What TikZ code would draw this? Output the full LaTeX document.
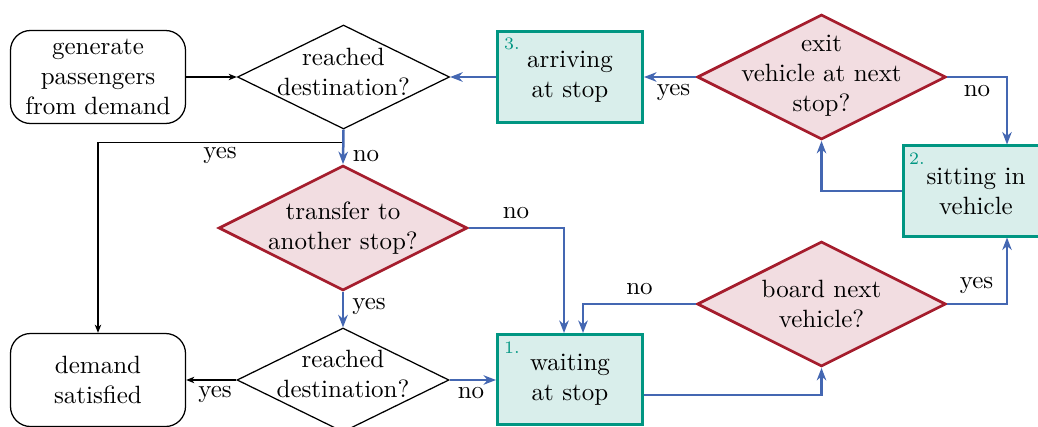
\documentclass[tikz,border=0pt]{standalone}
\usetikzlibrary{shapes.geometric,arrows.meta,calc}
\definecolor{flowblue}{RGB}{68,103,178}
\definecolor{flowred}{RGB}{165,29,45}
\definecolor{flowredfill}{RGB}{242,221,225}
\definecolor{flowteal}{RGB}{0,150,130}
\definecolor{flowtealfill}{RGB}{217,238,235}
\begin{document}
\begin{tikzpicture}[x=0.4pt,y=-0.4pt,
  term/.style={rectangle,draw=black,line width=0.5pt,rounded corners=8pt,minimum width=70pt,minimum height=37.2pt,inner sep=0pt,align=center},
  dec/.style={diamond,draw=black,line width=0.5pt,minimum width=84.8pt,minimum height=41.6pt,inner sep=0pt},
  rdec/.style={diamond,draw=flowred,fill=flowredfill,line width=1.1pt,minimum width=99.5pt,minimum height=50pt,inner sep=0pt},
  state/.style={rectangle,draw=flowteal,fill=flowtealfill,line width=1.2pt,minimum width=58pt,minimum height=36pt,inner sep=0pt,align=center},
  txt/.style={align=center,inner sep=0pt},
  num/.style={font=\scriptsize,text=flowteal,inner sep=0pt},
  lab/.style={inner sep=0pt},
  barrow/.style={draw=flowblue,line width=1pt,-{Stealth[length=5pt,width=3.8pt,inset=1.6pt]}},
  karrow/.style={draw=black,line width=0.5pt,-{Stealth[length=3.3pt,width=2.6pt,inset=1pt]}},
]
\useasboundingbox (0,0) rectangle (1038,426);

% nodes
\node[term] (gen) at (98,77) {generate\\passengers\\from demand};
\node[term] (demand) at (98,380) {demand\\satisfied};
\node[dec] (reachA) at (343.5,77) {};
\node[txt] (reachAt) at (343.5,71.5) {reached\\destination?};
\node[dec] (reachB) at (343,380) {};
\node[txt] (reachBt) at (343,373.5) {reached\\destination?};
\node[rdec] (trans) at (343,228) {};
\node[txt] (transt) at (343,228) {transfer to\\another stop?};
\node[rdec] (exit) at (821.5,77) {};
\node[txt] (exitt) at (821.5,76) {exit\\vehicle at next\\stop?};
\node[rdec] (board) at (821.5,304) {};
\node[txt] (boardt) at (821.5,304) {board next\\vehicle?};
\node[state] (arr) at (570,77) {arriving\\at stop};
\node[state] (wait) at (570,379.5) {waiting\\at stop};
\node[state] (sit) at (976,191) {sitting in\\vehicle};
\node[num] (n3) at ($(arr.north west)+(16,13)$) {3.};
\node[num] (n1) at ($(wait.north west)+(16,14.5)$) {1.};
\node[num] (n2) at ($(sit.north west)+(15,14)$) {2.};

% black connectors
\draw[karrow] (gen.east) -- (reachA.west);
\draw[karrow] (reachA.south) -- ++(0,13) -| (demand.north);
\draw[karrow] (reachB.west) -- (demand.east);

% blue connectors
\draw[barrow] (arr.west) -- (reachA.east);
\draw[barrow] (exit.west) -- (arr.east);
\draw[barrow] (exit.east) -| ($(sit.north)+(31,0)$);
\draw[barrow] (sit.west) -| (exit.south);
\draw[barrow] (board.east) -| ($(sit.south)+(31,0)$);
\draw[barrow] ($(wait.east)+(0,15.5)$) -| (board.south);
\draw[barrow] (board.west) -| ($(wait.north)+(13,0)$);
\draw[barrow] (trans.east) -| ($(wait.north)+(-6,0)$);
\draw[barrow] (reachA.south) -- (trans.north);
\draw[barrow] (trans.south) -- (reachB.north);
\draw[barrow] (reachB.east) -- (reachB.east -| wait.west);

% labels
\node[lab] (l1) at (220,155) {yes};
\node[lab] (l2) at (366,156) {no};
\node[lab] (l3) at (516,213) {no};
\node[lab] (l4) at (369,306) {yes};
\node[lab] (l5) at (215,394) {yes};
\node[lab] (l6) at (471,393) {no};
\node[lab] (l7) at (639.5,289) {no};
\node[lab] (l8) at (976.5,285) {yes};
\node[lab] (l9) at (673.5,92) {yes};
\node[lab] (l10) at (977,91.5) {no};
\end{tikzpicture}
\end{document}
